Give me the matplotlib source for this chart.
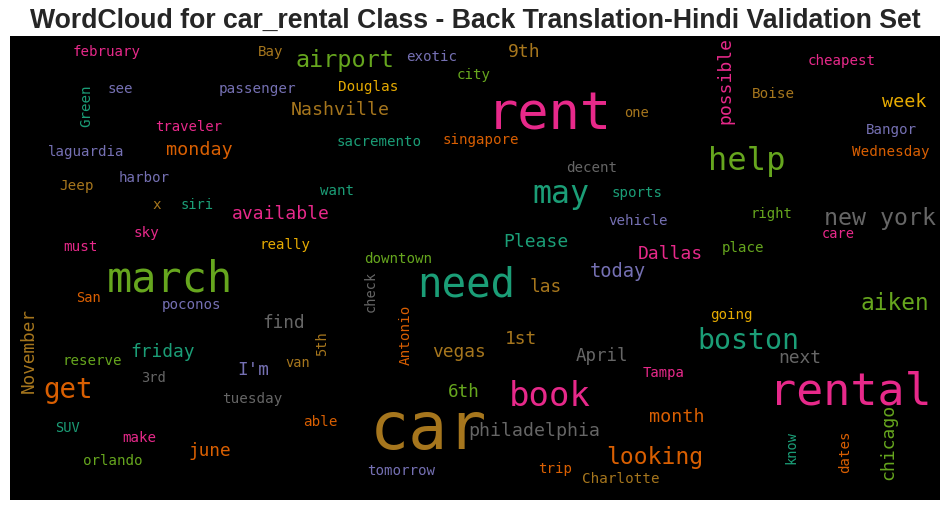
import matplotlib
matplotlib.use("Agg")
import matplotlib.pyplot as plt

# words of the cloud and their font size (px in the 800x400 cloud image)
words = ["february", "Bay", "Green", "see", "passenger", "traveler", "laguardia", "monday",
         "harbor", "Jeep", "x", "siri", "available", "sky", "must", "really", "march",
         "airport", "exotic", "9th", "city", "Douglas", "Nashville", "rent", "one",
         "sacremento", "singapore", "decent", "want", "may", "sports", "vehicle", "Please",
         "downtown", "today",
         "possible", "cheapest", "Boise", "week", "Bangor", "Wednesday", "help", "right",
         "new york", "care", "place", "Dallas",
         "San", "poconos", "find", "November", "5th", "friday", "reserve", "van", "I'm",
         "3rd", "get", "tuesday", "able", "SUV", "make", "june", "orlando",
         "need", "las", "check", "Antonio", "1st", "vegas", "April", "6th", "book", "car",
         "philadelphia", "looking", "tomorrow", "trip", "Charlotte",
         "aiken", "going", "boston", "next", "Tampa", "rental", "month", "know", "dates",
         "chicago"]
sizes = [13.9, 13.8, 13.9, 13.8, 14, 13.7, 13.9, 18,
         13.8, 14, 14, 13.5, 17.7, 14, 14, 13.8, 41,
         23, 13.8, 17.7, 13.8, 14, 17.9, 51, 13.5,
         13.8, 13.8, 13.8, 13.8, 31, 13.8, 13.8, 17.7,
         13.9, 18.3,
         17.6, 13.9, 14, 18, 13.8, 14, 31.5, 13.6,
         22.8, 13.3, 13.9, 17.6,
         13.5, 13.8, 17.4, 17.3, 13.5, 17.5, 13.8, 13.3, 17.3,
         13.3, 27, 14, 14, 13.3, 13.8, 17.4, 13.8,
         40, 17.5, 13.3, 14, 17.5, 17.5, 17, 17.3, 33.3, 63.7,
         17.9, 22.5, 13.9, 13.8, 14,
         22.3, 13.9, 27.7, 17.5, 13.6, 44.3, 18, 13.4, 13.8,
         17.8]
colors = ["pink", "brown", "teal", "purple", "purple", "pink", "purple", "orange",
          "purple", "brown", "brown", "teal", "pink", "pink", "pink", "yellow", "lime",
          "lime", "purple", "brown", "lime", "yellow", "brown", "pink", "brown",
          "teal", "orange", "gray", "teal", "teal", "teal", "purple", "teal",
          "lime", "purple",
          "pink", "pink", "brown", "yellow", "purple", "orange", "lime", "lime",
          "gray", "pink", "lime", "pink",
          "orange", "purple", "gray", "brown", "brown", "teal", "lime", "brown", "purple",
          "gray", "orange", "gray", "orange", "teal", "pink", "orange", "lime",
          "teal", "brown", "gray", "orange", "brown", "brown", "gray", "lime", "pink", "brown",
          "gray", "orange", "purple", "orange", "brown",
          "lime", "yellow", "teal", "gray", "pink", "pink", "orange", "teal", "orange",
          "lime"]
vertical = ["Green", "possible", "November", "5th", "check", "Antonio", "know", "dates", "chicago"]

# layout: start of the word (x) and its baseline (y), in figure pixels
word_x = [73, 258, 90.7, 108, 219, 155, 48, 166,
          119, 59, 152, 181, 232, 134, 63, 259, 107,
          295, 406, 508, 457, 338, 291, 487, 624,
          337, 443, 566, 320, 532, 612, 608, 503,
          364, 590,
          730.5, 808, 752, 882, 866, 852, 708, 750,
          824, 822, 722, 638,
          76, 162, 262, 34, 326, 130, 62, 285, 237,
          141, 43, 222, 303, 55, 122, 188, 83,
          417, 530, 374.3, 409.3, 505, 432, 576, 448, 509, 370,
          468, 606, 367, 538, 582,
          860, 710, 697, 778, 643, 769, 649, 795, 849,
          893.3]
word_y = [56, 56, 126.7, 93.3, 93.3, 130.7, 156, 155,
          181.7, 190, 209, 209.3, 219.3, 236.7, 250.7, 249.3, 291.7,
          67.3, 60.7, 56.7, 79.3, 91, 115, 129.3, 117.3,
          146, 144, 171.7, 195, 203.3, 196.7, 225, 247.3,
          263.3, 277.3,
          124, 65, 97.7, 107.3, 134.3, 156, 170, 218.3,
          225, 238.3, 251.7, 259.3,
          301.7, 309.3, 328.3, 393.3, 356, 356.7, 365, 366.7, 375,
          381.7, 398.3, 402.7, 425.7, 431.7, 441.7, 456, 465,
          296.7, 291.7, 311.7, 365, 344, 357.3, 360.7, 397.3, 406, 449,
          435.7, 464, 475, 473.3, 482.7,
          310, 319.3, 349.3, 363.3, 376.7, 404, 421.7, 464, 473.3,
          480]

palette = {"teal": "#1b9e77", "orange": "#d95f02", "purple": "#7570b3", "pink": "#e7298a",
           "lime": "#66a61e", "yellow": "#e6ab02", "brown": "#a6761d", "gray": "#666666"}

W, H, DPI = 950, 511, 100
fig = plt.figure(figsize=(W / DPI, H / DPI), dpi=DPI)
fig.patch.set_facecolor("white")

# image area of the cloud
ax = fig.add_axes([10 / W, (H - 500) / H, 930 / W, 464 / H])
ax.set_facecolor("black")
ax.set_xlim(10, 940)
ax.set_ylim(500, 36)
ax.set_xticks([])
ax.set_yticks([])
for s in ax.spines.values():
    s.set_visible(False)

for w, s, c, x, y in zip(words, sizes, colors, word_x, word_y):
    rot = 90 if w in vertical else 0
    # ink is a bit narrower than n * advance, so size up slightly
    ax.text(x, y, w, fontsize=s * 1.02 * 72 / DPI, color=palette[c], family="DejaVu Sans Mono",
            ha="left", va="baseline", rotation=rot, rotation_mode="anchor", clip_on=True)

fig.text(0.5, (H - 28) / H, "WordCloud for car_rental Class - Back Translation-Hindi Validation Set",
         ha="center", va="baseline", fontsize=19.2, fontweight="bold", color="#262626",
         family="Liberation Sans")

fig.savefig("out.png", dpi=DPI)
